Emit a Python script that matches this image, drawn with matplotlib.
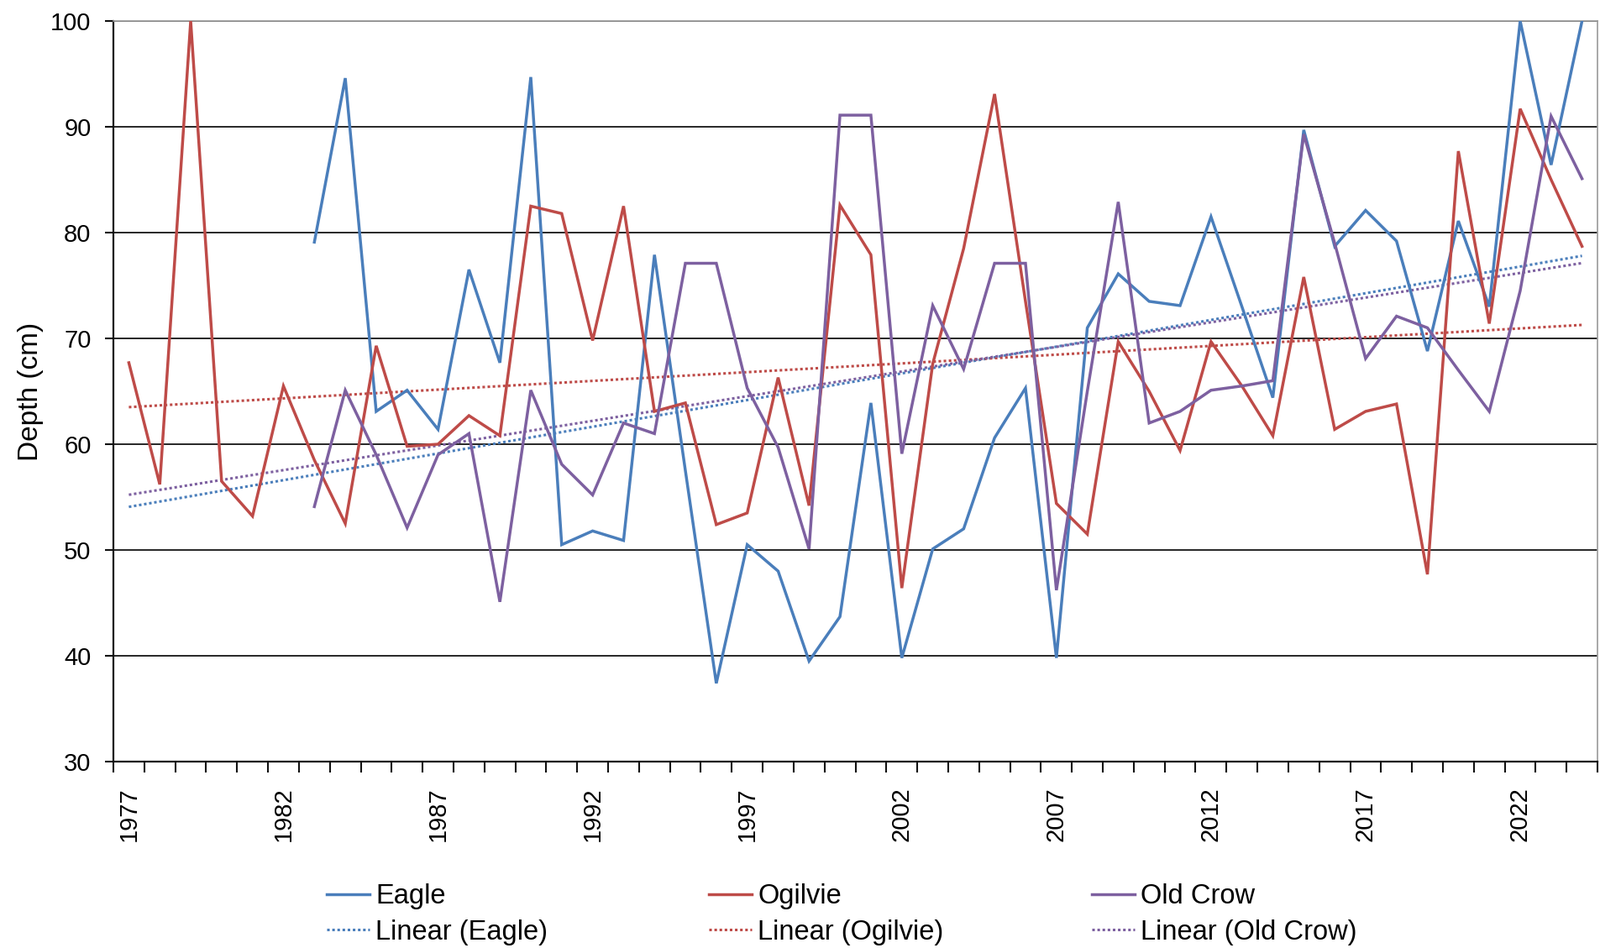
import numpy as np
import matplotlib
matplotlib.use("Agg")
import matplotlib.pyplot as plt

plt.rcParams['font.family'] = ['Liberation Sans', 'DejaVu Sans']

years = list(range(1977, 2025))
nan = np.nan

# snow depth (cm)
eagle = [nan, nan, nan, nan, nan, nan,
         79.1, 94.6, 63.1, 65.1, 61.4, 76.5, 67.7, 94.7, 50.5, 51.8,
         50.9, 77.9, 57.5, 37.4, 50.5, 48.0, 39.5, 43.7, 63.9, 39.8,
         50.1, 52.0, 60.6, 65.3, 39.8, 71.0, 76.1, 73.5, 73.1, 81.5,
         73.0, 64.4, 89.7, 78.7, 82.1, 79.2, 68.8, 81.1, 73.0, 100.0,
         86.4, 100.0]
ogilvie = [67.7, 56.2, 100.0, 56.5, 53.2, 65.5, 58.5, 52.5, 69.3, 59.8,
           60.0, 62.7, 60.8, 82.5, 81.8, 69.8, 82.5, 63.1, 63.9, 52.4,
           53.5, 66.3, 54.2, 82.6, 77.9, 46.4, 67.6, 78.5, 93.1, 73.5,
           54.4, 51.5, 69.7, 65.0, 59.4, 69.7, 65.5, 60.8, 75.8, 61.4,
           63.1, 63.8, 47.7, 87.7, 71.4, 91.7, 85.0, 78.7]
old_crow = [nan, nan, nan, nan, nan, nan,
            54.1, 65.1, 59.0, 52.1, 59.0, 61.0, 45.1, 65.1, 58.1, 55.2,
            62.0, 61.0, 77.1, 77.1, 65.3, 59.7, 50.1, 91.1, 91.1, 59.1,
            73.1, 67.1, 77.1, 77.1, 46.2, 65.0, 82.9, 62.0, 63.1, 65.1,
            65.5, 66.0, 89.3, 79.0, 68.1, 72.1, 71.0, 67.0, 63.1, 74.5,
            91.0, 85.1]

names = ['Eagle', 'Ogilvie', 'Old Crow']
colors = ['#4A7EBB', '#BE4B48', '#7D60A0']
series = [eagle, ogilvie, old_crow]

fig = plt.figure(figsize=(19.05, 11.29), dpi=100)
ax = fig.add_axes([135/1905, 1-907/1129, (1902-135)/1905, (907-25)/1129])

x = np.array(years, dtype=float)
lines = []
trends = []
for name, c, s in zip(names, colors, series):
    y = np.array(s, dtype=float)
    ln, = ax.plot(x, y, color=c, lw=2.5, solid_joinstyle='miter', zorder=3)
    # linear trendline like excel
    ok = ~np.isnan(y)
    k, b = np.polyfit(x[ok], y[ok], 1)
    tr, = ax.plot(x, k*x + b, color=c, lw=2.2, ls=(0, (1, 1)), zorder=2)
    lines.append(ln)
    trends.append(tr)

ax.set_xlim(1976.5, 2024.5)
ax.set_ylim(30, 100)
ax.set_yticks(range(30, 101, 10))
ax.grid(axis='y', color='#262626', lw=1.4)
ax.set_axisbelow(True)

# ticks between categories, labels every 5 years
ax.set_xticks(np.arange(1976.5, 2025, 1))
ax.set_xticklabels([])
ax.set_xticks(range(1977, 2025, 5), minor=True)
ax.set_xticklabels([str(v) for v in range(1977, 2025, 5)], minor=True,
                   rotation=90, fontsize=21)
ax.tick_params(axis='x', which='major', length=9, width=1.5, color='#111')
ax.tick_params(axis='x', which='minor', length=0, pad=22)
ax.tick_params(axis='y', length=7, width=1.5, color='#111', pad=12, labelsize=21)

for side in ['left', 'bottom']:
    ax.spines[side].set_color('#111')
    ax.spines[side].set_linewidth(1.6)
for side in ['top', 'right']:
    ax.spines[side].set_color('#9a9a9a')
    ax.spines[side].set_linewidth(1.2)

ax.set_ylabel('Depth (cm)', fontsize=24, labelpad=6)

legend_x = [389, 844, 1300]
for lx, ln, tr, name in zip(legend_x, lines, trends, names):
    fig.legend([ln, tr], [name, 'Linear (%s)' % name], loc='center left',
               bbox_to_anchor=(lx/1905, 1-1089/1129), frameon=False,
               borderpad=0, borderaxespad=0, handlelength=1.56,
               handletextpad=0.22, labelspacing=0.35, fontsize=23.5)

fig.savefig('out.png', dpi=100)
